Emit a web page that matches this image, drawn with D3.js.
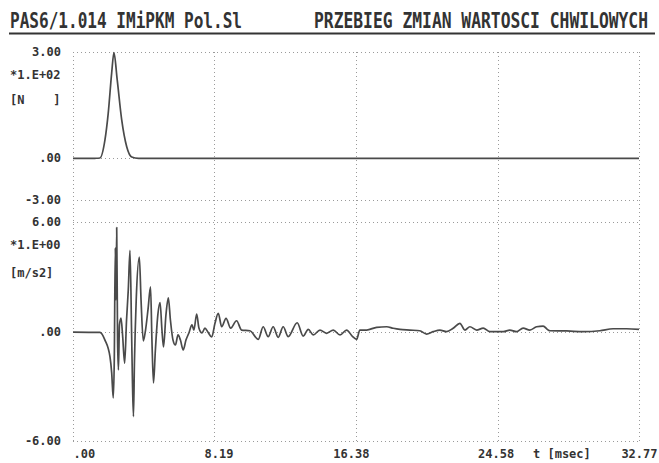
<!DOCTYPE html>
<html>
<head>
<meta charset="utf-8">
<script src="https://cdn.jsdelivr.net/npm/d3@7"></script>
<style>
  html, body { margin: 0; padding: 0; background: #fff; }
  svg { display: block; }
  text { font-family: "DejaVu Sans Mono", "Liberation Mono", monospace; }
</style>
</head>
<body>
<div id="chart"></div>
<script>
// time axis, msec
const xTicks = [0, 8.19, 16.38, 24.58, 32.77];
const xTickLabels = [".00", "8.19", "16.38", "24.58", "32.77"];

// upper panel: force, *1.E+02 [N]
const forceTicks = [3, 0, -3];
const forceTickLabels = ["3.00", ".00", "-3.00"];
const forceT = [0, 0.8, 1.3, 1.56, 1.85, 2.04, 2.24, 2.37, 2.56, 2.82, 3.11, 3.40, 3.8, 5.0, 10, 15, 20, 25, 30, 32.77];
const forceV = [-0.02, -0.03, -0.02, 0.0, 0.51, 1.27, 2.41, 2.98, 2.21, 1.08, 0.32, 0.03, -0.02, -0.03, -0.02, -0.03, -0.03, -0.02, -0.03, -0.03];

// lower panel: acceleration, *1.E+00 [m/s2]
const accTicks = [6, 0, -6];
const accTickLabels = ["6.00", ".00", "-6.00"];
const accT = [0, 1.56, 1.85, 2.14, 2.24, 2.33, 2.39, 2.45, 2.49, 2.53, 2.58, 2.63, 2.69, 2.78, 2.87, 2.99,
  3.10, 3.20, 3.30, 3.39, 3.44, 3.50, 3.56, 3.66, 3.84, 3.94, 4.07, 4.20, 4.34, 4.49, 4.57, 4.66,
  4.77, 4.91, 5.04, 5.15, 5.24, 5.38, 5.52, 5.64, 5.79, 5.93, 6.08, 6.22, 6.38, 6.54, 6.71, 6.89,
  7.00, 7.16, 7.29, 7.47, 7.64, 7.81, 8.03, 8.22, 8.41, 8.61, 8.86, 9.13, 9.47, 9.76, 10.24, 10.73,
  11.01, 11.30, 11.59, 11.88, 12.17, 12.46, 12.98, 13.33, 13.62, 13.91, 14.30, 14.68, 15.07, 15.46,
  15.84, 16.19, 16.42, 16.61, 17.00, 17.58, 18.16, 18.54, 18.93, 19.50, 20.08, 20.47, 20.85, 21.24,
  21.63, 22.01, 22.40, 22.69, 22.98, 23.37, 23.75, 24.14, 24.52, 24.91, 25.29, 25.68, 26.06, 26.45,
  26.84, 27.22, 27.51, 27.61, 28.58, 29.54, 30.50, 31.27, 32.05, 32.77];
const accV = [-0.03, -0.05, -0.47, -1.38, -2.27, -3.64, -1.56, 4.58, 1.73, 5.70, -0.47, -2.11, 0.36, 0.74, -0.19, -1.73,
  0.63, 2.27, 4.44, 0.08, -2.66, -4.66, -1.56, 1.73, 4.08, 1.73, -0.52, 0.08, 1.18, 2.44, -0.47, -2.82,
  -1.01, 0.90, 1.59, 0.08, -0.85, 0.90, 1.84, 0.63, -0.47, -0.74, -0.19, -0.47, -1.01, -0.47, -0.08, 0.36,
  0.08, 0.96, 0.19, -0.08, 0.19, -0.03, -0.30, 0.45, 1.00, 0.26, 0.72, 0.18, 0.59, 0.08, 0.04, -0.43,
  0.26, -0.28, 0.26, -0.32, 0.26, -0.28, 0.48, -0.25, 0.12, -0.19, 0.08, -0.10, 0.08, -0.19,
  0.08, -0.28, -0.43, 0.08, 0.08, 0.23, 0.26, 0.18, 0.12, 0.08, 0.04, -0.14, -0.01, 0.08,
  -0.01, 0.18, 0.45, 0.08, 0.26, 0.08, 0.18, -0.01, -0.01, -0.01, 0.08, -0.01, 0.18, 0.08,
  0.26, 0.30, 0.08, 0.04, 0.03, -0.01, 0.04, 0.15, 0.15, 0.12];

const W = 659, H = 463;
const INK = "#333";
const GRID = "#9a9a9a";
const TRACE = "#4a4a4a";

const svg = d3.select("#chart").append("svg").attr("width", W).attr("height", H);

const x = d3.scaleLinear().domain([0, 32.77]).range([73, 639]);
// the upper panel is squeezed under the zero line, so its scale is piecewise
const yF = d3.scaleLinear().domain([-3, 0, 3]).range([200, 158, 52]);
const yA = d3.scaleLinear().domain([-6, 6]).range([441, 222]);

// header: tall narrow plotter lettering, stretched vertically
const header = [["PAS6/1.014 IMiPKM Pol.Sl", 10, 232], ["PRZEBIEG ZMIAN WARTOSCI CHWILOWYCH", 314, 334]];
svg.append("g").selectAll("text").data(header).join("text")
  .attr("transform", d => `translate(${d[1]},28) scale(1,1.28)`)
  .attr("font-size", 16).attr("font-weight", "bold").attr("fill", INK)
  .attr("textLength", d => d[2]).attr("lengthAdjust", "spacingAndGlyphs")
  .text(d => d[0]);
svg.append("line").attr("x1", 9).attr("x2", 655).attr("y1", 33.5).attr("y2", 33.5)
  .attr("stroke", INK).attr("stroke-width", 2);

// dotted grid
const grid = svg.append("g").attr("stroke", GRID).attr("stroke-width", 1).attr("stroke-dasharray", "1,3");
grid.selectAll("line.v").data(xTicks).join("line").attr("class", "v")
  .attr("x1", d => Math.round(x(d)) + 0.5).attr("x2", d => Math.round(x(d)) + 0.5)
  .attr("y1", yF(3)).attr("y2", yA(-6));
grid.selectAll("line.hf").data(forceTicks).join("line").attr("class", "hf")
  .attr("x1", x(0)).attr("x2", x(32.77))
  .attr("y1", d => Math.round(yF(d)) + 0.5).attr("y2", d => Math.round(yF(d)) + 0.5);
grid.selectAll("line.ha").data(accTicks).join("line").attr("class", "ha")
  .attr("x1", x(0)).attr("x2", x(32.77))
  .attr("y1", d => Math.round(yA(d)) + 0.5).attr("y2", d => Math.round(yA(d)) + 0.5);

// y axes
function yAxis(scale, ticks, labels) {
  svg.append("g").attr("transform", "translate(61,0)")
    .call(d3.axisLeft(scale).tickValues(ticks).tickSize(0).tickPadding(0)
      .tickFormat((d, i) => labels[i]))
    .call(g => g.select(".domain").remove())
    .call(g => g.selectAll("text").attr("font-family", "DejaVu Sans Mono").attr("font-size", 12)
      .attr("font-weight", "bold").attr("fill", INK));
}
yAxis(yF, forceTicks, forceTickLabels);
yAxis(yA, accTicks, accTickLabels);

const units = [["*1.E+02", 75], ["[N    ]", 100], ["*1.E+00", 245], ["[m/s2]", 273]];
svg.append("g").selectAll("text").data(units).join("text")
  .attr("x", 10).attr("y", d => d[1]).attr("dy", "0.35em")
  .attr("font-size", 12).attr("font-weight", "bold").attr("fill", INK)
  .style("white-space", "pre")
  .text(d => d[0]);

// x axis labels, the plotter offsets them slightly from the grid lines
const xShift = [0, 4, -5, -20, 18];
const xAnchor = ["start", "middle", "middle", "start", "end"];
svg.append("g").attr("transform", "translate(0,454)")
  .call(d3.axisBottom(x).tickValues(xTicks).tickSize(0).tickPadding(0)
    .tickFormat((d, i) => xTickLabels[i]))
  .call(g => g.select(".domain").remove())
  .call(g => g.selectAll("text")
    .attr("font-family", "DejaVu Sans Mono").attr("font-size", 12).attr("font-weight", "bold")
    .attr("fill", INK).attr("dy", "0.35em").attr("y", 0)
    .attr("dx", (d, i) => xShift[i])
    .attr("text-anchor", (d, i) => xAnchor[i]));
svg.append("text").attr("x", 533).attr("y", 454).attr("dy", "0.35em")
  .attr("font-size", 12).attr("font-weight", "bold").attr("fill", INK)
  .style("white-space", "pre").text("t [msec]");

// traces
const forceLine = d3.line().curve(d3.curveMonotoneX).x((d, i) => x(forceT[i])).y(d => yF(d));
svg.append("path").datum(forceV)
  .attr("fill", "none").attr("stroke", TRACE).attr("stroke-width", 1.7)
  .attr("stroke-linejoin", "round").attr("d", forceLine);

const accLine = d3.line().curve(d3.curveMonotoneX).x((d, i) => x(accT[i])).y(d => yA(d));
svg.append("path").datum(accV)
  .attr("fill", "none").attr("stroke", TRACE).attr("stroke-width", 1.7)
  .attr("stroke-linejoin", "round").attr("d", accLine);
</script>
</body>
</html>
